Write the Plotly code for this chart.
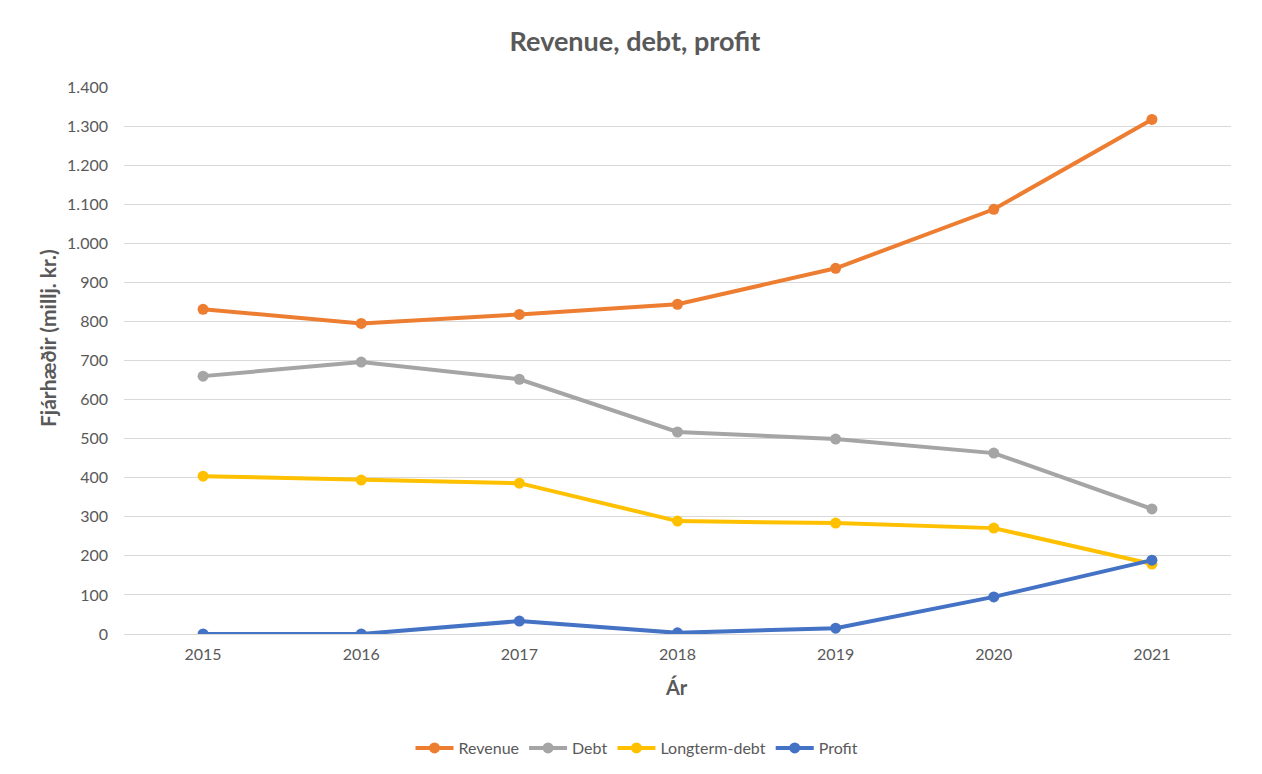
import plotly.graph_objects as go

# Gögn lesin af myndinni (millj. kr.)
years = ["2015", "2016", "2017", "2018", "2019", "2020", "2021"]
revenue = [831, 795, 818, 844, 936, 1087, 1317]
debt = [660, 696, 652, 517, 499, 463, 320]
longterm_debt = [404, 394, 386, 289, 284, 271, 179]
profit = [0, 0, 33, 3, 15, 95, 189]

series_names = ["Revenue", "Debt", "Longterm-debt", "Profit"]
series_colors = ["#ED7D31", "#A5A5A5", "#FFC000", "#4472C4"]

# síðan er með 8px spássíu, því er myndin aðeins minni og hliðruð
OFF = 8
W, H = 1246, 758
L, R, T, B = 116, 23, 79, 132
pw, ph = W - L - R, H - T - B


def px_x(p):
    return (p - OFF - L) / pw


def px_y(p):
    return (H - B - (p - OFF)) / ph


fig = go.Figure()

for name, vals, color in zip(series_names, [revenue, debt, longterm_debt, profit], series_colors):
    fig.add_trace(go.Scatter(
        x=years,
        y=vals,
        mode="lines+markers",
        name=name,
        line=dict(color=color, width=4),
        marker=dict(color=color, size=11),
    ))

text_color = "#595959"
font_family = "Lato, Open Sans, sans-serif"

fig.update_layout(
    width=W,
    height=H,
    margin=dict(l=L, r=R, t=T, b=B, autoexpand=False),
    paper_bgcolor="white",
    plot_bgcolor="white",
    separators=",.",
    font=dict(family=font_family, size=16, color=text_color),
    title=dict(text="<b>Revenue, debt, profit</b>", x=(635 - OFF) / W, xref="container",
               y=1 - (42 - OFF) / H, yref="container", xanchor="center", yanchor="middle",
               font=dict(size=27, color=text_color)),
    xaxis=dict(type="category", showgrid=False, zeroline=False, showline=False,
               ticks="", ticklabelstandoff=9, range=[-0.5, 6.5],
               tickfont=dict(size=16, color=text_color)),
    yaxis=dict(range=[0, 1400], dtick=100, tickformat=",d", showgrid=True,
               gridcolor="#d9d9d9", gridwidth=1, zeroline=True, zerolinecolor="#d9d9d9",
               zerolinewidth=1, showline=False, ticks="", ticklabelstandoff=15,
               tickfont=dict(size=16, color=text_color)),
    showlegend=True,
    legend=dict(orientation="h", xref="container", yref="container",
                x=(637 - OFF) / W, xanchor="center", y=1 - (748 - OFF) / H,
                yanchor="middle", font=dict(size=16, color=text_color),
                bgcolor="rgba(0,0,0,0)", itemwidth=38, traceorder="normal"),
    annotations=[
        dict(text="<b>Fjárhæðir (millj. kr.)</b>", xref="paper", yref="paper",
             x=px_x(47), y=px_y(338), textangle=-90, showarrow=False,
             xanchor="center", yanchor="middle", font=dict(size=21, color=text_color)),
        dict(text="<b>Ár</b>", xref="paper", yref="paper",
             x=px_x(676), y=px_y(687), showarrow=False,
             xanchor="center", yanchor="middle", font=dict(size=20, color=text_color)),
    ],
)

fig.write_html("out.html")
